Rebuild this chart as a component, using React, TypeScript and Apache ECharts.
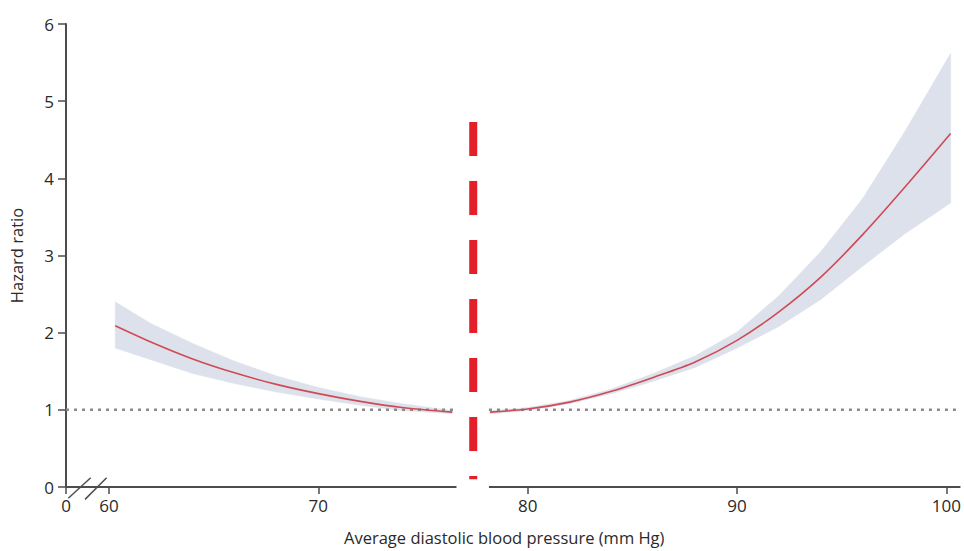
import React, { useEffect, useRef } from "react";
import * as echarts from "echarts";

// ---- data ----
const leftX = [60.3, 62, 64, 66, 68, 70, 72, 74, 76.4];
const leftHR = [2.09, 1.88, 1.66, 1.48, 1.33, 1.21, 1.11, 1.03, 0.97];
const leftLo = [1.8, 1.65, 1.47, 1.34, 1.23, 1.14, 1.06, 0.99, 0.95];
const leftHi = [2.4, 2.12, 1.86, 1.63, 1.44, 1.29, 1.17, 1.08, 0.99];

const rightX = [78.2, 80, 82, 84, 86, 88, 90, 92, 94, 96, 98, 100.2];
const rightHR = [0.97, 1.01, 1.1, 1.24, 1.42, 1.62, 1.9, 2.27, 2.72, 3.27, 3.88, 4.58];
const rightLo = [0.95, 0.99, 1.08, 1.21, 1.37, 1.55, 1.8, 2.08, 2.43, 2.86, 3.28, 3.68];
const rightHi = [0.99, 1.03, 1.12, 1.27, 1.47, 1.7, 2.01, 2.48, 3.05, 3.74, 4.6, 5.62];

const xTickValues = [60, 70, 80, 90, 100];
const xZeroPos = 57.95; // where the broken axis shows "0"
const xMax = 100.67;
const yMin = 0;
const yMax = 6;
const referenceHR = 1;
const cutoffX = 77.4;
const cutoffTop = 4.73;
const cutoffBottom = 0.1;
const gapFrom = 76.6;
const gapTo = 78.15;
const breakMarks = [
  [[58.06, -0.146], [59.13, 0.12]],
  [[58.86, -0.16], [59.89, 0.12]],
];

const zip = (a: number[], b: number[]) => a.map((v, i) => [v, b[i]]);

const BAND = "#dde1eb";
const CURVE = "#cf4a55";
const AXIS = "#4d4d4d";
const TEXT = "#2a2a2a";
const FONT = "'Open Sans', 'Noto Sans', sans-serif";

export default function App() {
  const ref = useRef<HTMLDivElement>(null);
  useEffect(() => {
    if (!ref.current) return;
    const chart = echarts.init(ref.current, undefined, { renderer: "svg" });
    const plain = { type: "line" as const, symbol: "none", silent: true };
    const bandSeries = (xs: number[], lo: number[], hi: number[]) => ({
      type: "custom" as const,
      silent: true,
      z: 1,
      data: xs.map((x, i) => [x, lo[i], hi[i]]),
      encode: { x: 0, y: [1, 2] },
      renderItem: (params: any, api: any) => {
        if (params.dataIndex !== 0) return null;
        const upper = xs.map((x, i) => api.coord([x, hi[i]]));
        const lower = xs.map((x, i) => api.coord([x, lo[i]])).reverse();
        return {
          type: "polygon",
          shape: { points: [...upper, ...lower] },
          style: { fill: BAND, stroke: BAND, lineWidth: 0.5 },
        };
      },
    });
    const seg = (data: number[][], style: any, z = 3, clip = true) => ({
      ...plain,
      data,
      lineStyle: style,
      z,
      clip,
    });
    chart.setOption({
      animation: false,
      grid: { left: 66, right: 1, top: 24, bottom: 64, containLabel: false },
      xAxis: {
        type: "value",
        min: xZeroPos,
        max: xMax,
        name: "Average diastolic blood pressure (mm Hg)",
        nameLocation: "middle",
        nameGap: 42,
        nameTextStyle: { color: TEXT, fontSize: 16.5, fontFamily: FONT, padding: [0, 18, 0, 0] },
        axisLine: { show: false },
        splitLine: { show: false },
        axisTick: {
          show: true,
          customValues: [xZeroPos, ...xTickValues],
          length: 7,
          lineStyle: { color: AXIS, width: 1.5 },
        },
        axisLabel: {
          customValues: [xZeroPos, ...xTickValues],
          formatter: (v: number) => (v < 59 ? "0" : String(Math.round(v))),
          color: TEXT,
          fontSize: 17,
          fontFamily: FONT,
          margin: 10,
        },
      },
      yAxis: {
        type: "value",
        min: yMin,
        max: yMax,
        interval: 1,
        name: "Hazard ratio",
        nameLocation: "middle",
        nameGap: 41,
        nameTextStyle: { color: TEXT, fontSize: 16.5, fontFamily: FONT },
        axisLine: { show: true, lineStyle: { color: AXIS, width: 2 } },
        axisTick: { show: true, length: 8, lineStyle: { color: AXIS, width: 1.5 } },
        splitLine: { show: false },
        axisLabel: { color: TEXT, fontSize: 17, fontFamily: FONT, margin: 12 },
      },
      series: [
        bandSeries(leftX, leftLo, leftHi),
        bandSeries(rightX, rightLo, rightHi),
        seg([[xZeroPos, referenceHR], [gapFrom, referenceHR]], { color: "#8a8a8a", width: 2.5, type: [3, 5] }, 2),
        seg([[gapTo, referenceHR], [xMax, referenceHR]], { color: "#8a8a8a", width: 2.5, type: [3, 5] }, 2),
        { ...plain, smooth: 0.3, data: zip(leftX, leftHR), lineStyle: { color: CURVE, width: 1.6 }, z: 4 },
        { ...plain, smooth: 0.3, data: zip(rightX, rightHR), lineStyle: { color: CURVE, width: 1.6 }, z: 4 },
        seg([[xZeroPos, yMin], [gapFrom, yMin]], { color: AXIS, width: 2 }, 5, false),
        seg([[gapTo, yMin], [xMax, yMin]], { color: AXIS, width: 2 }, 5, false),
        ...breakMarks.map((m) => seg(m, { color: AXIS, width: 1.5 }, 6, false)),
        seg([[cutoffX, cutoffTop], [cutoffX, cutoffBottom]], { color: "#e3202a", width: 8, type: [34, 25], cap: "butt" }, 7),
      ],
    });
    return () => chart.dispose();
  }, []);
  return (
    <div
      ref={ref}
      style={{ position: "absolute", left: 0, top: 0, width: 964, height: 551 }}
    />
  );
}
